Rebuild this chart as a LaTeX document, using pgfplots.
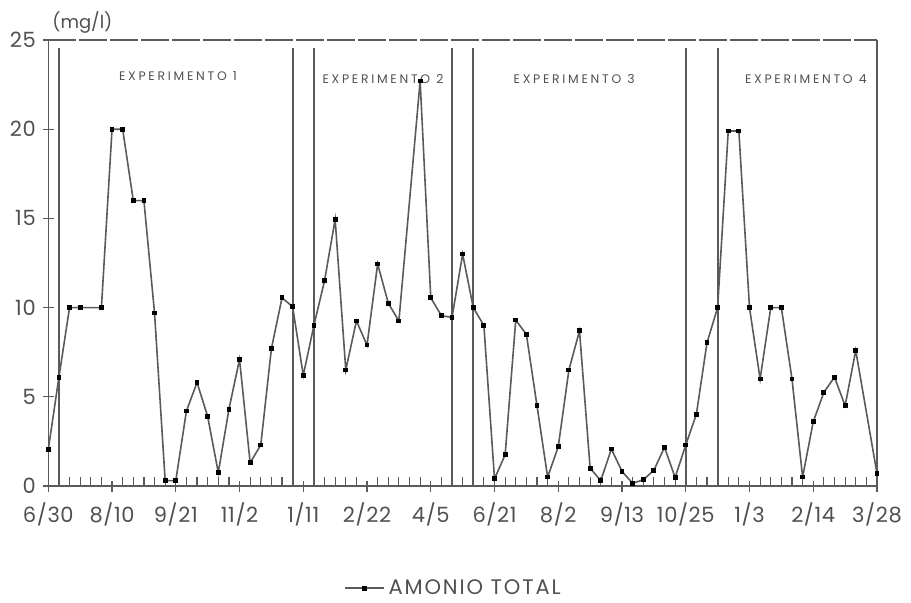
\documentclass[border=0pt]{standalone}
\usepackage{fontspec}
\setmainfont{Poppins}
\usepackage{pgfplots}
\pgfplotsset{compat=1.18}
\definecolor{txt}{HTML}{505050}
\definecolor{ln}{HTML}{5A5A5A}
\begin{document}
\begin{tikzpicture}
\useasboundingbox (-24.15pt,-58pt) rectangle (431.35pt,243pt);
\begin{axis}[
  scale only axis, width=414.35pt, height=223pt,
  xmin=0, xmax=78, ymin=0, ymax=25,
  axis x line*=bottom, axis y line*=left,
  axis line style={ln, line width=0.7pt},
  xtick={0,6,...,78},
  xticklabels={6/30,8/10,9/21,11/2,1/11,2/22,4/5,6/21,8/2,9/13,10/25,1/3,2/14,3/28},
  minor x tick num=5,
  ytick={0,5,...,25},
  tick align=center,
  major tick length=5.5pt,
  minor tick length=4.5pt,
  minor tick style={yshift=2.25pt},
  tick style={ln, line width=0.6pt},
  ticklabel style={font=\fontsize{10.5}{12}\selectfont\addfontfeatures{LetterSpace=3}, text=txt},
  xticklabel style={yshift=-2pt},
  /pgf/number format/assume math mode=true,
  clip=false,
  legend style={at={(0.49,-0.229)}, anchor=center, draw=none, fill=none,
    font=\fontsize{10.5}{12}\selectfont\addfontfeatures{LetterSpace=9}, text=txt},
  legend image code/.code={\draw[mark repeat=2,mark phase=2,#1] plot coordinates {(0pt,0pt) (9.75pt,0pt) (19.5pt,0pt)};},
]
\addplot[ycomb, ln, line width=0.9pt, no marks, forget plot] coordinates {
  (1,24.55) (23,24.55) (25,24.55) (38,24.55) (40,24.55) (60,24.55) (63,24.55)};
\addplot[ln, line width=0.8pt, mark=square*, mark size=0.8pt, mark options={black, solid}] table {
x y
0 2.05
1 6.1
2 10
3 10
5 10
6 20
7 20
8 16
9 16
10 9.7
11 0.3
12 0.3
13 4.2
14 5.8
15 3.9
16 0.75
17 4.3
18 7.1
19 1.3
20 2.3
21 7.7
22 10.55
23 10.05
24 6.2
25 9.0
26 11.5
27 14.95
28 6.5
29 9.25
30 7.9
31 12.45
32 10.25
33 9.25
35 22.7
36 10.55
37 9.55
38 9.45
39 13.0
40 10.0
41 9.0
42 0.4
43 1.75
44 9.3
45 8.5
46 4.5
47 0.5
48 2.2
49 6.5
50 8.7
51 1.0
52 0.3
53 2.07
54 0.82
55 0.15
56 0.35
57 0.88
58 2.17
59 0.48
60 2.3
61 4.02
62 8.03
63 10.0
64 19.9
65 19.9
66 10.0
67 6.0
68 10.0
69 10.0
70 6.0
71 0.5
72 3.6
73 5.25
74 6.1
75 4.5
76 7.6
78 0.7
};
\addlegendentry{AMONIO TOTAL}
\draw[ln, line width=0.7pt, dash pattern=on 14pt off 1.5pt] (rel axis cs:0,1) -- (rel axis cs:1,1);
\draw[ln, line width=0.7pt] (rel axis cs:1,1) -- (rel axis cs:1,0);
\tikzset{exp/.style={font=\fontsize{6.2}{7}\selectfont\addfontfeatures{LetterSpace=22}, text=txt}}
\node[exp] at (axis cs:12.2,23) {EXPERIMENTO 1};
\node[exp] at (axis cs:31.5,22.8) {EXPERIMENTO 2};
\node[exp] at (axis cs:49.5,22.8) {EXPERIMENTO 3};
\node[exp] at (axis cs:71.3,22.8) {EXPERIMENTO 4};
\node[font=\fontsize{9}{10}\selectfont, text=txt, anchor=west] at ([xshift=-1.5pt,yshift=9pt]rel axis cs:0,1) {(mg/l)};
\end{axis}
\end{tikzpicture}
\end{document}
